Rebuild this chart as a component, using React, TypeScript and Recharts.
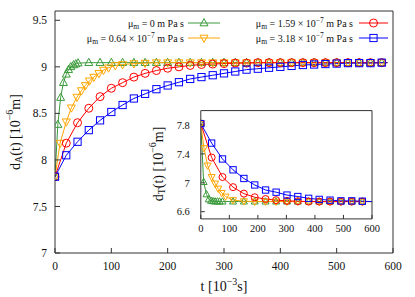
import React from 'react';
import { LineChart, Line, XAxis, YAxis, Legend, Label } from 'recharts';

const FONT = '"Liberation Serif", "Times New Roman", serif';

// ---- legend / series meta ----
const SERIES_VALUES = ['0', '0.64', '1.59', '3.18'];
const SERIES_EXP = ['', '−7', '−7', '−7'];
const COLORS = ['#3a9a3a', '#ffa500', '#ff0000', '#0000ff'];
const SHAPES = ['triUp', 'triDown', 'circle', 'square'];

// ---- ticks ----
const MAIN_X_TICKS = [0, 100, 200, 300, 400, 500, 600];
const MAIN_Y_TICKS = [7, 7.5, 8, 8.5, 9, 9.5];
const INSET_X_TICKS = [0, 100, 200, 300, 400, 500, 600];
const INSET_Y_TICKS = [6.6, 7, 7.4, 7.8];

// ---- main plot: d_A(t) ----
const A_GREEN_T = [0, 5, 10, 15, 20, 24, 28, 33, 37, 41, 60, 80, 100, 120, 140, 160, 180, 200, 220, 240, 260, 280, 300, 320, 340, 360, 380, 400, 420, 440, 460, 480, 500, 520, 540, 560, 580, 590];
const A_GREEN_V = [7.82, 8.38, 8.67, 8.83, 8.92, 8.97, 9.0, 9.02, 9.03, 9.04, 9.045, 9.045, 9.045, 9.045, 9.045, 9.045, 9.045, 9.045, 9.045, 9.045, 9.045, 9.045, 9.045, 9.045, 9.045, 9.045, 9.045, 9.045, 9.045, 9.045, 9.045, 9.045, 9.045, 9.045, 9.045, 9.045, 9.045, 9.045];

const A_ORANGE_T = [0, 9, 20, 29, 39, 47, 54, 61, 69, 78, 86, 95, 107, 120, 140, 160, 180, 200, 220, 240, 260, 280, 300, 320, 340, 360, 380, 400, 420, 440, 460, 480, 500, 520, 540, 560, 580, 590];
const A_ORANGE_V = [7.82, 8.18, 8.41, 8.56, 8.675, 8.745, 8.8, 8.85, 8.89, 8.93, 8.965, 8.99, 9.015, 9.025, 9.035, 9.04, 9.045, 9.045, 9.045, 9.045, 9.045, 9.045, 9.045, 9.045, 9.045, 9.045, 9.045, 9.045, 9.045, 9.045, 9.045, 9.045, 9.045, 9.045, 9.045, 9.045, 9.045, 9.045];

const A_T20 = [0, 20, 40, 60, 80, 100, 120, 140, 160, 180, 200, 220, 240, 260, 280, 300, 320, 340, 360, 380, 400, 420, 440, 460, 480, 500, 520, 540, 560, 580, 590];
const A_RED_V = [7.82, 8.18, 8.4, 8.555, 8.68, 8.77, 8.83, 8.89, 8.93, 8.96, 8.985, 9.0, 9.015, 9.025, 9.03, 9.035, 9.04, 9.04, 9.045, 9.045, 9.045, 9.045, 9.045, 9.045, 9.045, 9.045, 9.045, 9.045, 9.045, 9.045, 9.045];
const A_BLUE_V = [7.82, 8.05, 8.195, 8.32, 8.425, 8.515, 8.59, 8.66, 8.71, 8.76, 8.8, 8.835, 8.87, 8.89, 8.91, 8.93, 8.95, 8.97, 8.98, 8.99, 9.0, 9.01, 9.02, 9.025, 9.03, 9.035, 9.04, 9.04, 9.04, 9.045, 9.045];

// ---- inset: d_T(t) ----
const T_GREEN_T = [0, 10, 20, 28, 36, 43, 50, 58, 66, 76, 113, 151, 189, 227, 264, 302, 340, 378, 415, 453, 491, 529, 566, 600];
const T_GREEN_V = [7.82, 7.01, 6.84, 6.77, 6.75, 6.745, 6.74, 6.74, 6.74, 6.74, 6.74, 6.74, 6.74, 6.74, 6.74, 6.74, 6.74, 6.74, 6.74, 6.74, 6.74, 6.74, 6.74, 6.74];

const T_ORANGE_T = [0, 11, 24, 38, 50, 61, 73, 87, 113, 151, 189, 227, 264, 302, 340, 378, 415, 453, 491, 529, 566, 600];
const T_ORANGE_V = [7.82, 7.48, 7.24, 7.08, 6.99, 6.92, 6.86, 6.81, 6.76, 6.745, 6.74, 6.74, 6.74, 6.74, 6.74, 6.74, 6.74, 6.74, 6.74, 6.74, 6.74, 6.74];

const T_T38 = [0, 38, 76, 113, 151, 189, 227, 264, 302, 340, 378, 415, 453, 491, 529, 566, 600];
const T_RED_V = [7.82, 7.35, 7.08, 6.94, 6.85, 6.8, 6.775, 6.76, 6.75, 6.745, 6.74, 6.74, 6.74, 6.74, 6.74, 6.74, 6.74];
const T_BLUE_V = [7.82, 7.55, 7.33, 7.18, 7.06, 6.97, 6.9, 6.87, 6.83, 6.81, 6.785, 6.77, 6.76, 6.75, 6.75, 6.745, 6.74];

const zip = (ts: number[], vs: number[]) => ts.map((t, i) => ({ t, v: vs[i] }));

const MAIN_SERIES = [
  zip(A_GREEN_T, A_GREEN_V),
  zip(A_ORANGE_T, A_ORANGE_V),
  zip(A_T20, A_RED_V),
  zip(A_T20, A_BLUE_V),
];
const INSET_SERIES = [
  zip(T_GREEN_T, T_GREEN_V),
  zip(T_ORANGE_T, T_ORANGE_V),
  zip(T_T38, T_RED_V),
  zip(T_T38, T_BLUE_V),
];

function Marker({ shape, x, y, color, s }: { shape: string; x: number; y: number; color: string; s: number }) {
  const common = { fill: 'none', stroke: color, strokeWidth: 1 };
  if (shape === 'circle') return <circle cx={x} cy={y} r={s * 0.5} {...common} />;
  if (shape === 'square') return <rect x={x - s * 0.45} y={y - s * 0.45} width={s * 0.9} height={s * 0.9} {...common} />;
  if (shape === 'triUp')
    return <polygon points={`${x},${y - s * 0.55} ${x - s * 0.5},${y + s * 0.35} ${x + s * 0.5},${y + s * 0.35}`} {...common} />;
  return <polygon points={`${x},${y + s * 0.55} ${x - s * 0.5},${y - s * 0.35} ${x + s * 0.5},${y - s * 0.35}`} {...common} />;
}

const makeDot = (shape: string, color: string, s: number, maxT: number) => (props: any) => {
  const { cx, cy, payload, index } = props;
  if (cx == null || cy == null || payload.t > maxT) return <g key={`d${index}`} />;
  return (
    <g key={`d${index}`}>
      <Marker shape={shape} x={cx} y={cy} color={color} s={s} />
    </g>
  );
};

function LegendBox() {
  const entries = [
    { col: 0, row: 0, i: 0 },
    { col: 0, row: 1, i: 1 },
    { col: 1, row: 0, i: 2 },
    { col: 1, row: 1, i: 3 },
  ];
  const colTextX = [184, 353];
  const colLine = [[188, 220], [359, 388]];
  const rowY = [23, 38];
  return (
    <svg width={415} height={50} style={{ position: 'absolute', left: 0, top: 0, overflow: 'visible' }}>
      {entries.map(({ col, row, i }) => {
        const y = rowY[row];
        const [x1, x2] = colLine[col];
        return (
          <g key={i}>
            <text x={colTextX[col]} y={y + 3.5} textAnchor="end" fontFamily={FONT} fontSize={10} fill="#111">
              μ<tspan dy={2.5} fontSize={7.5}>m</tspan>
              <tspan dy={-2.5}>{` = ${SERIES_VALUES[i]}`}</tspan>
              {SERIES_EXP[i] ? (
                <>
                  <tspan>{' × 10'}</tspan>
                  <tspan dy={-4} fontSize={7.5}>{SERIES_EXP[i]}</tspan>
                  <tspan dy={4}>{' m Pa s'}</tspan>
                </>
              ) : (
                <tspan>{' m Pa s'}</tspan>
              )}
            </text>
            <line x1={x1} x2={x2} y1={y} y2={y} stroke={COLORS[i]} strokeWidth={1} />
            <Marker shape={SHAPES[i]} x={(x1 + x2) / 2} y={y} color={COLORS[i]} s={8} />
          </g>
        );
      })}
    </svg>
  );
}

const tickStyle = { fontFamily: FONT, fontSize: 11.5, fill: '#111' };
const insetTickStyle = { fontFamily: FONT, fontSize: 10.5, fill: '#111' };
const AX = '#333';

export default function App() {
  return (
    <div style={{ position: 'absolute', left: 0, top: 0, width: 415, height: 297, background: '#fff' }}>
      <div style={{ position: 'absolute', left: 0, top: 0 }}>
        <LineChart width={415} height={297} margin={{ top: 10, right: 21, bottom: 43, left: 54 }}>
          <XAxis xAxisId="b" type="number" dataKey="t" domain={[0, 600]} ticks={MAIN_X_TICKS} orientation="bottom" height={1}
            tickSize={-5} tickMargin={14} tick={tickStyle} stroke={AX} axisLine={{ stroke: AX }} tickLine={{ stroke: AX }} allowDataOverflow>
            <Label content={() => (
              <text x={224} y={291} textAnchor="middle" fontFamily={FONT} fontSize={14} fill="#111">
                t [10<tspan dy={-6} fontSize={10}>−3</tspan><tspan dy={6}>s]</tspan>
              </text>
            )} />
          </XAxis>
          <XAxis xAxisId="top" type="number" domain={[0, 600]} ticks={MAIN_X_TICKS} orientation="top" height={1}
            tickSize={-5} tick={false} axisLine={{ stroke: AX }} tickLine={{ stroke: AX }} allowDataOverflow />
          <YAxis yAxisId="l" type="number" domain={[7, 9.6]} ticks={MAIN_Y_TICKS} width={1}
            tickSize={-5} tickMargin={13} tick={tickStyle} axisLine={{ stroke: AX }} tickLine={{ stroke: AX }} allowDataOverflow>
            <Label content={() => (
              <text x={15} y={132} transform="rotate(-90 15 132)" textAnchor="middle" dominantBaseline="central" fontFamily={FONT} fontSize={14} fill="#111">
                d<tspan dy={3} fontSize={10}>A</tspan><tspan dy={-3}>(t) [10</tspan><tspan dy={-6} fontSize={10}>−6</tspan><tspan dy={6}>m]</tspan>
              </text>
            )} />
          </YAxis>
          <YAxis yAxisId="r" type="number" domain={[7, 9.6]} ticks={MAIN_Y_TICKS} orientation="right" width={1}
            tickSize={-5} tick={false} axisLine={{ stroke: AX }} tickLine={{ stroke: AX }} allowDataOverflow />
          <Legend layout="horizontal" verticalAlign="middle" align="center"
            wrapperStyle={{ position: 'absolute', left: 0, top: 0, width: 415, height: 50 }}
            content={() => <LegendBox />} />
          {MAIN_SERIES.map((d, i) => (
            <Line key={i} xAxisId="b" yAxisId="l" data={d} dataKey="v" type="linear" stroke={COLORS[i]} strokeWidth={1}
              dot={makeDot(SHAPES[i], COLORS[i], 8, 585)} activeDot={false} isAnimationActive={false} />
          ))}
        </LineChart>
      </div>
      <div style={{ position: 'absolute', left: 0, top: 0 }}>
        <LineChart width={415} height={297} margin={{ top: 109.6, right: 42, bottom: 77.1, left: 199.8 }}>
          <XAxis xAxisId="b" type="number" dataKey="t" domain={[0, 600]} ticks={INSET_X_TICKS} orientation="bottom" height={1}
            tickSize={-4} tickMargin={10} tick={insetTickStyle} axisLine={{ stroke: AX }} tickLine={{ stroke: AX }} allowDataOverflow />
          <XAxis xAxisId="top" type="number" domain={[0, 600]} ticks={INSET_X_TICKS} orientation="top" height={1}
            tickSize={-4} tick={false} axisLine={{ stroke: AX }} tickLine={{ stroke: AX }} allowDataOverflow />
          <YAxis yAxisId="l" type="number" domain={[6.5, 8.0]} ticks={INSET_Y_TICKS} width={1}
            tickSize={-4} tickMargin={15} tick={insetTickStyle} axisLine={{ stroke: AX }} tickLine={{ stroke: AX }} allowDataOverflow>
            <Label content={() => (
              <text x={158} y={164} transform="rotate(-90 158 164)" textAnchor="middle" dominantBaseline="central" fontFamily={FONT} fontSize={14} fill="#111">
                d<tspan dy={3} fontSize={10}>T</tspan><tspan dy={-3}>(t) [10</tspan><tspan dy={-6} fontSize={10}>−6</tspan><tspan dy={6}>m]</tspan>
              </text>
            )} />
          </YAxis>
          <YAxis yAxisId="r" type="number" domain={[6.5, 8.0]} ticks={INSET_Y_TICKS} orientation="right" width={1}
            tickSize={-4} tick={false} axisLine={{ stroke: AX }} tickLine={{ stroke: AX }} allowDataOverflow />
          {INSET_SERIES.map((d, i) => (
            <Line key={i} xAxisId="b" yAxisId="l" data={d} dataKey="v" type="linear" stroke={COLORS[i]} strokeWidth={1}
              dot={makeDot(SHAPES[i], COLORS[i], 7, 590)} activeDot={false} isAnimationActive={false} />
          ))}
        </LineChart>
      </div>
    </div>
  );
}
